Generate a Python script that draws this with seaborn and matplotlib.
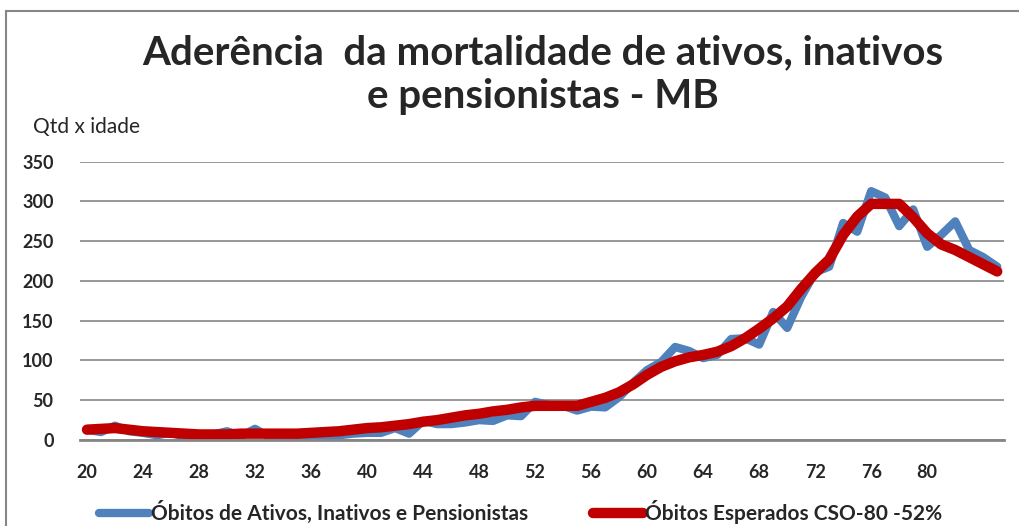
import matplotlib
matplotlib.use("Agg")
import matplotlib.pyplot as plt
import numpy as np
import pandas as pd
import seaborn as sns
from matplotlib.patches import Rectangle

# idades 20..85
idades = list(range(20, 86))

# Óbitos observados
obitos_obs = [13, 10, 18, 11, 9, 6, 9, 4, 3, 7,
              11, 5, 14, 4, 3, 3, 3, 4, 6, 8,
              9, 9, 15, 8, 24, 20, 20, 22, 25, 24,
              31, 30, 48, 44, 43, 37, 42, 41, 54, 72,
              88, 98, 117, 112, 103, 107, 127, 128, 120, 161,
              141, 180, 211, 218, 273, 262, 313, 305, 269, 290,
              243, 258, 275, 239, 230, 218]

# Óbitos esperados CSO-80 -52%
obitos_esp = [13, 14, 15, 13, 11, 10, 9, 8, 7, 7,
              7, 8, 8, 8, 8, 8, 9, 10, 11, 13,
              15, 16, 18, 20, 23, 25, 28, 31, 33, 36,
              38, 41, 43, 43, 43, 43, 48, 53, 60, 70,
              82, 92, 99, 104, 107, 111, 118, 128, 140, 153,
              168, 190, 210, 227, 258, 281, 297, 297, 297, 280,
              260, 246, 239, 230, 221, 212]

nome_obs = "Óbitos de Ativos, Inativos e Pensionistas"
nome_esp = "Óbitos Esperados CSO-80 -52%"

df = pd.DataFrame({"idade": idades, nome_obs: obitos_obs, nome_esp: obitos_esp})

sns.set_theme(style="white")
plt.rcParams['font.family'] = ['Lato', 'DejaVu Sans']

fig = plt.figure(figsize=(10.19, 5.26), dpi=100)
ax = fig.add_axes([0.0785, 0.1635, 0.907, 0.529])

sns.lineplot(data=df, x="idade", y=nome_obs, ax=ax, color="#4F81BD",
             linewidth=6, label=nome_obs, solid_capstyle="round", solid_joinstyle="round")
sns.lineplot(data=df, x="idade", y=nome_esp, ax=ax, color="#C00000",
             linewidth=7.5, label=nome_esp, solid_capstyle="round", solid_joinstyle="round")

ax.set_xlim(19.5, 85.5)
ax.set_ylim(0, 350)
ax.set_yticks(range(0, 351, 50))
ax.set_xticks(range(20, 81, 4))
ax.yaxis.grid(True, color="#868686", linewidth=1.2)
ax.set_axisbelow(True)
for s in ["left", "right", "top"]:
    ax.spines[s].set_visible(False)
ax.spines["bottom"].set_color("#868686")
ax.spines["bottom"].set_linewidth(2)
ax.tick_params(axis="x", length=0, labelsize=13, pad=17)
ax.tick_params(axis="y", length=0, labelsize=13, pad=19)
for lab in ax.get_xticklabels() + ax.get_yticklabels():
    lab.set_fontweight("bold")
ax.set_xlabel("")
ax.set_ylabel("")

leg = ax.legend(loc="center left", bbox_to_anchor=(0.021, -0.259), ncol=2, frameon=False,
                fontsize=15, handlelength=2.4, handletextpad=0.1, columnspacing=3.1,
                borderaxespad=0, borderpad=0)
for t in leg.get_texts():
    t.set_fontweight("bold")

fig.text(0.533, 0.858, "Aderência  da mortalidade de ativos, inativos\ne pensionistas - MB",
         ha="center", va="center", fontsize=29, fontweight="bold", linespacing=1.2)
fig.text(0.032, 0.758, "Qtd x idade", ha="left", va="center", fontsize=15)

# moldura do gráfico
fig.patches.append(Rectangle((0.006, -0.05), 1.2, 1.03, transform=fig.transFigure,
                             fill=False, edgecolor="#868686", linewidth=1.5))

fig.savefig("out.png", dpi=100)
